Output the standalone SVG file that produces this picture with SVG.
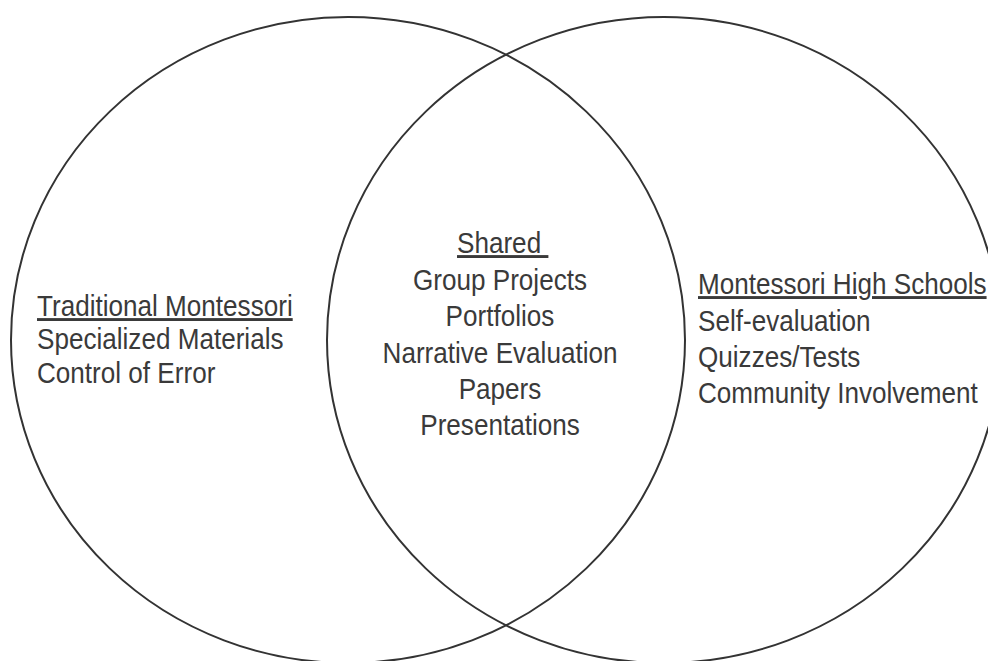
<svg xmlns="http://www.w3.org/2000/svg" width="988" height="661" viewBox="0 0 988 661">
<style>
.c{fill:none;stroke:#333;stroke-width:2}
.t{font-family:"Liberation Sans",Arial,sans-serif;font-size:29px;fill:#3a3a3a}
.u{text-decoration:underline}
.m{text-anchor:middle}
</style>
<rect width="988" height="661" fill="#fff"/>
<g id="left-set">
<ellipse class="c" cx="348" cy="340" rx="337" ry="323"/>
<g transform="translate(37,0) scale(0.9,1)">
<text class="t" x="0" y="316"><tspan class="u">Traditional Montessori</tspan></text>
<text class="t" x="0" y="349">Specialized Materials</text>
<text class="t" x="0" y="383">Control of Error</text>
</g>
</g>
<g id="right-set">
<ellipse class="c" cx="664" cy="340" rx="337" ry="323"/>
<g transform="translate(698,0) scale(0.9,1)">
<text class="t" x="0" y="294"><tspan class="u">Montessori High Schools</tspan></text>
<text class="t" x="0" y="331">Self-evaluation</text>
<text class="t" x="0" y="367">Quizzes/Tests</text>
<text class="t" x="0" y="403">Community Involvement</text>
</g>
</g>
<g id="shared">
<g transform="translate(500,0) scale(0.9,1)">
<text class="t m" x="3" y="253" xml:space="preserve" style="white-space:pre"><tspan class="u">Shared </tspan></text>
<text class="t m" x="0" y="290">Group Projects</text>
<text class="t m" x="0" y="326">Portfolios</text>
<text class="t m" x="0" y="363">Narrative Evaluation</text>
<text class="t m" x="0" y="399">Papers</text>
<text class="t m" x="0" y="435">Presentations</text>
</g>
</g>
<g id="connectors"></g>
</svg>
